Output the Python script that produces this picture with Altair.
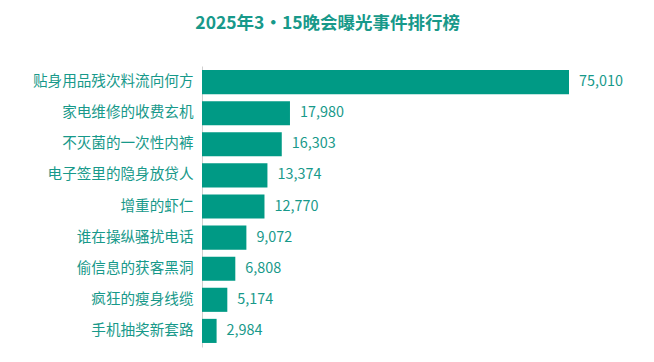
import altair as alt
import pandas as pd

categories = ["贴身用品残次料流向何方", "家电维修的收费玄机", "不灭菌的一次性内裤", "电子签里的隐身放贷人",
              "增重的虾仁", "谁在操纵骚扰电话", "偷信息的获客黑洞", "疯狂的瘦身线缆", "手机抽奖新套路"]
values = [75010, 17980, 16303, 13374, 12770, 9072, 6808, 5174, 2984]

df = pd.DataFrame({"cat": categories, "val": values})
FONT = "Noto Sans CJK SC"
TEAL = "#009a85"
TXT = "#17998a"

base = alt.Chart(df).encode(
    y=alt.Y("cat:N", sort=categories, title=None,
            scale=alt.Scale(paddingInner=0.225, paddingOuter=0.13),
            axis=alt.Axis(ticks=False, domainColor="#d0d0d0", labelPadding=9,
                          labelFontSize=14.6, labelColor=TXT, labelFont=FONT)),
    x=alt.X("val:Q", axis=None, scale=alt.Scale(domain=[0, 75010], nice=False)),
)
bars = base.mark_bar(color=TEAL)
labels = base.mark_text(align="left", dx=10, fontSize=14.4, color=TXT, font=FONT).encode(
    text=alt.Text("val:Q", format=",")
)

chart = (bars + labels).properties(
    width=367, height=281,
    title=alt.TitleParams("2025年3·15晚会曝光事件排行榜", font=FONT, fontSize=17.5,
                          fontWeight="bold", color=TXT, anchor="middle", frame="bounds", offset=34),
    autosize=alt.AutoSizeParams(type="none"),
    padding={"left": 194, "top": 58, "right": 77, "bottom": 7},
).configure_view(stroke=None)

chart.save("out.html", embed_options={"renderer": "svg", "actions": False})
